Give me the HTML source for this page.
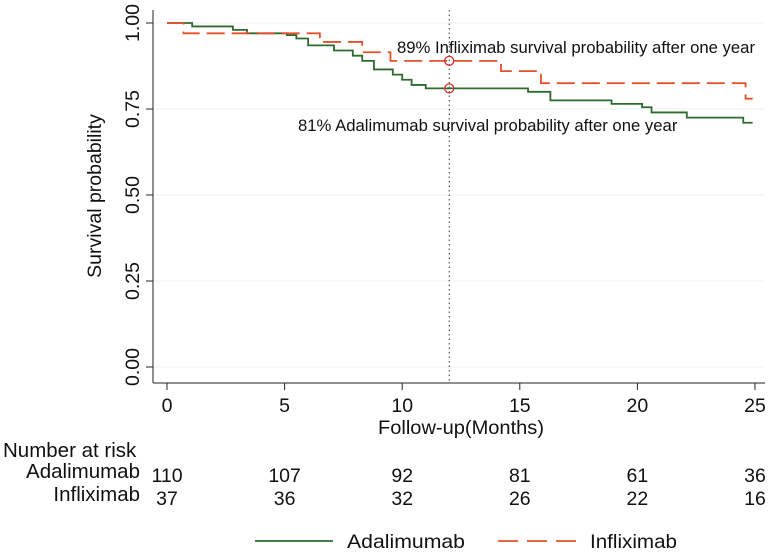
<!DOCTYPE html>
<html><head><meta charset="utf-8"><style>
body{margin:0;background:#fff;}
svg text{font-family:"Liberation Sans",Arial,sans-serif;fill:#111;}
</style></head><body>
<svg id="c" width="771" height="551" viewBox="0 0 771 551" xmlns="http://www.w3.org/2000/svg">
<g id="grid"></g><g id="axes"></g><g id="series"></g><g id="labels"></g>
</svg>
<script>
const adaTimes=[0,1.07,2.8,3.4,5.1,5.5,6.0,7.1,7.9,8.3,8.8,9.6,10.0,10.4,11.0,15.35,16.3,18.9,20.2,20.6,22.1,24.5,24.9];
const adaSurv=[1.0,0.99,0.98,0.97,0.965,0.955,0.935,0.92,0.905,0.89,0.865,0.85,0.835,0.82,0.81,0.80,0.775,0.765,0.755,0.74,0.725,0.71,0.71];
const infTimes=[0,0.7,6.5,8.3,9.5,14.2,15.9,24.6,24.9];
const infSurv=[1.0,0.97,0.945,0.915,0.89,0.86,0.825,0.78,0.78];
const xTicks=[0,5,10,15,20,25];
const yTicks=[0,0.25,0.5,0.75,1.0];
const yTickLabels=["0.00","0.25","0.50","0.75","1.00"];
const riskAda=[110,107,92,81,61,36];
const riskInf=[37,36,32,26,22,16];
const markerTime=12;
const markerAda=0.81, markerInf=0.89;

const NS="http://www.w3.org/2000/svg";
const X=t=>167+t*23.52;
const Y=p=>367-p*344;
const FS=19.5;
function el(tag,attrs,parent){const e=document.createElementNS(NS,tag);for(const k in attrs)e.setAttribute(k,attrs[k]);document.getElementById(parent).appendChild(e);return e;}
yTicks.forEach(v=>{const g=el('line',{x1:153,x2:765,y1:Y(v),y2:Y(v),stroke:'#eef2f5','stroke-width':1},'grid');

});
let a=el('line',{x1:153,x2:153,y1:10,y2:383,stroke:'#222','stroke-width':1},'axes');


a=el('line',{x1:153,x2:765,y1:383,y2:383,stroke:'#222','stroke-width':1},'axes');


yTicks.forEach((v,i)=>{
 const t=el('line',{x1:146,x2:153,y1:Y(v),y2:Y(v),stroke:'#222'},'axes');
 
 
 const l=el('text',{x:0,y:0,'font-size':FS,'text-anchor':'middle',transform:`translate(139,${Y(v)}) rotate(-90)`},'labels');
 l.textContent=yTickLabels[i];
 
 
});
xTicks.forEach((v,i)=>{
 const t=el('line',{x1:X(v),x2:X(v),y1:383,y2:390,stroke:'#222'},'axes');
 
 
 const l=el('text',{x:X(v),y:412,'font-size':FS,'text-anchor':'middle'},'labels');
 l.textContent=v;
 
 
 const r1=el('text',{x:X(v),y:482,'font-size':FS,'text-anchor':'middle'},'labels');
 r1.textContent=riskAda[i];
 
 
 const r2=el('text',{x:X(v),y:505,'font-size':FS,'text-anchor':'middle'},'labels');
 r2.textContent=riskInf[i];
 
 
});
function txt(s,x,y,anchor,name,extra){const t=el('text',Object.assign({x:x,y:y,'font-size':FS,'text-anchor':anchor},extra||{}),'labels');t.textContent=s;

return t;}
txt('Follow-up(Months)',461,434,'middle','x-axis-title',{textLength:166,lengthAdjust:'spacingAndGlyphs'});
txt('Survival probability',0,0,'middle','y-axis-title',{transform:'translate(101,196) rotate(-90)'});
txt('Number at risk',3,457,'start','risk-table-title',{'font-size':20.5});
txt('Adalimumab',140,478,'end','risk-label-adalimumab',{'font-size':20.5});
txt('Infliximab',140,501,'end','risk-label-infliximab',{'font-size':20.5});
txt('89% Infliximab survival probability after one year',397,53,'start','infliximab-annotation',{'font-size':16.7});
txt('81% Adalimumab survival probability after one year',298,131,'start','adalimumab-annotation',{'font-size':16.7});
a=el('line',{x1:X(markerTime),x2:X(markerTime),y1:10,y2:383,stroke:'#333','stroke-dasharray':'1.5,3','stroke-width':1},'series');


function stepPath(ts,ss){let d=`M${X(ts[0])},${Y(ss[0])}`;for(let i=1;i<ts.length;i++){d+=`H${X(ts[i])}V${Y(ss[i])}`;}return d;}
let p=el('path',{d:stepPath(adaTimes,adaSurv),fill:'none',stroke:'#2e6b2e','stroke-width':1.8},'series');


p=el('path',{d:stepPath(infTimes,infSurv),fill:'none',stroke:'#e5502a','stroke-width':1.8,'stroke-dasharray':'18,7'},'series');


[markerAda,markerInf].forEach(v=>{const c=el('circle',{cx:X(markerTime),cy:Y(v),r:4.5,fill:'none',stroke:'#d62a2a','stroke-width':1.3},'series');

});
a=el('line',{x1:255,x2:333,y1:541,y2:541,stroke:'#2e6b2e','stroke-width':1.8},'labels');


txt('Adalimumab',347,548,'start','legend-adalimumab',{textLength:118,lengthAdjust:'spacingAndGlyphs'});
a=el('line',{x1:498,x2:576,y1:541,y2:541,stroke:'#e5502a','stroke-width':1.8,'stroke-dasharray':'20,9'},'labels');


txt('Infliximab',590,548,'start','legend-infliximab',{textLength:87,lengthAdjust:'spacingAndGlyphs'});
</script>
</body></html>
